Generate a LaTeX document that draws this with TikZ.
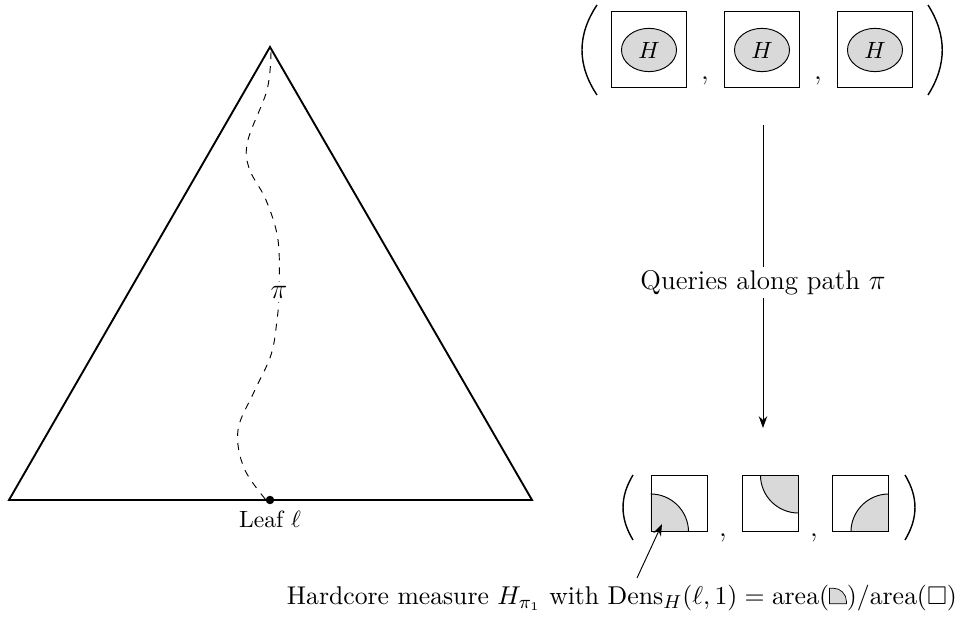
\documentclass[tikz,border=0pt]{standalone}
\usepackage{amsmath,amssymb}
\usetikzlibrary{shapes.geometric,arrows.meta,backgrounds}
\newcommand{\quartericon}{\tikz[baseline=-0.3pt]{\filldraw[fill=gray!30,line width=0.3pt] (0,0) -- (0,6.6pt) -- (1.6pt,6.6pt) arc[start angle=90,end angle=0,radius=5.6pt] -- (7.2pt,0) -- cycle;}}
\begin{document}
\begin{tikzpicture}[x=0.425pt,y=-0.425pt,
  tri/.style={thick},
  pathline/.style={dashed},
  bigsq/.style={draw,minimum size=31.9pt,inner sep=0pt},
  smallsq/.style={draw,minimum size=23.8pt,inner sep=0pt},
  hell/.style={draw,ellipse,fill=gray!30,minimum width=23.4pt,minimum height=18.4pt,inner sep=0pt},
  quarter/.style={fill=gray!30},
  paren/.style={line width=0.6pt},
  arr/.style={-{Stealth[length=5pt,width=3.6pt]}},
  lbl/.style={fill=white,inner sep=1.5pt}
]
\useasboundingbox (0,0) rectangle (968,622);
% tree triangle
\coordinate (apex) at (270,47);
\coordinate (bl) at (9,500);
\coordinate (br) at (532,500);
\draw[tri] (apex) -- (bl) -- (br) -- cycle;
\node[circle,fill,inner sep=0pt,minimum size=3.6pt] (leaf) at (270,500) {};
\node (leaflbl) at (270,519) {Leaf $\ell$};
% path pi
\draw[pathline] plot[smooth,tension=0.6] coordinates {(271,52) (267,90) (248,140) (249,168) (266,200) (278,240) (279,292) (277,320) (271,355) (254,392) (238,430) (244,468) (266,500)};
\node[lbl,font=\large] (pi) at (279,292) {$\pi$};
% top tuple
\node[bigsq] (t1) at (649,49.5) {};
\node[bigsq] (t2) at (762,49.5) {};
\node[bigsq] (t3) at (875,49.5) {};
\node[hell] (e1) at (649,50) {$H$};
\node[hell] (e2) at (762,50) {$H$};
\node[hell] (e3) at (875,50) {$H$};
\node[anchor=base,font=\large] (tc1) at (705,80) {$,$};
\node[anchor=base,font=\large] (tc2) at (818,80) {$,$};
\coordinate (tlA) at (597,5);  \coordinate (tlB) at (597,95);
\coordinate (trA) at (928,5);  \coordinate (trB) at (928,95);
\draw[paren] (tlA) .. controls (577,35) and (577,65) .. (tlB);
\draw[paren] (trA) .. controls (947,35) and (947,65) .. (trB);
% bottom tuple
\node[smallsq] (s1) at (679,503.5) {};
\node[smallsq] (s2) at (770,503.5) {};
\node[smallsq] (s3) at (860.5,503.5) {};
\begin{scope}[on background layer]
\fill[quarter] (s1.south west) -- ++(38,0) arc[start angle=0,end angle=-90,radius=38] -- cycle;
\fill[quarter] (s2.north east) -- ++(-38,0) arc[start angle=180,end angle=90,radius=38] -- cycle;
\fill[quarter] (s3.south east) -- ++(-38,0) arc[start angle=180,end angle=270,radius=38] -- cycle;
\end{scope}
\draw (s1.south west) ++(38,0) arc[start angle=0,end angle=-90,radius=38];
\draw (s2.north east) ++(-38,0) arc[start angle=180,end angle=90,radius=38];
\draw (s3.south east) ++(-38,0) arc[start angle=180,end angle=270,radius=38];
\node[anchor=base,font=\large] (bc1) at (723,537) {$,$};
\node[anchor=base,font=\large] (bc2) at (814,537) {$,$};
\coordinate (blA) at (633,475);  \coordinate (blB) at (633,540);
\coordinate (brA) at (905,475);  \coordinate (brB) at (905,540);
\draw[paren] (blA) .. controls (619.7,497) and (619.7,518) .. (blB);
\draw[paren] (brA) .. controls (918.3,497) and (918.3,518) .. (brB);
% queries arrow
\coordinate (qa) at (763,125);
\coordinate (qb) at (763,428);
\draw[arr] (qa) -- node[lbl,font=\fontsize{11.5}{14}\selectfont,pos=0.52] (ql) {Queries along path $\pi$} (qb);
% note
\node[font=\fontsize{10.9}{13}\selectfont] (note) at (622,598) {Hardcore measure $H_{\pi_1}$ with $\mathrm{Dens}_H(\ell,1)=\mathrm{area}(\text{\quartericon})/\mathrm{area}(\square)$};
\coordinate (nt) at (637,578);
\coordinate (hp) at (662,524);
\draw[arr] (nt) -- (hp);
\end{tikzpicture}
\end{document}
